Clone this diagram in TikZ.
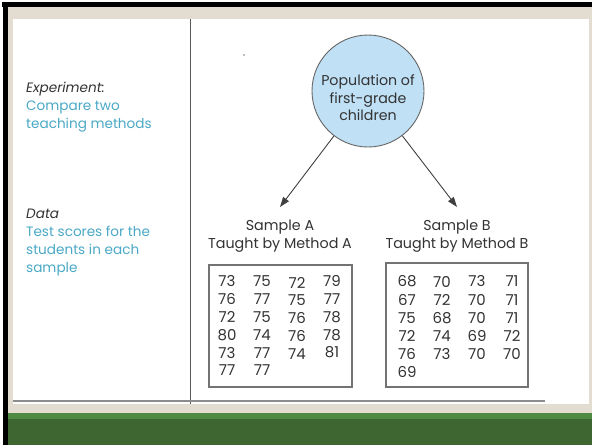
\documentclass[tikz,border=0pt]{standalone}
\usepackage{fontspec}
\setmainfont{Poppins}
\usetikzlibrary{arrows.meta}
\definecolor{beige}{HTML}{E3DDD1}
\definecolor{lgreen}{HTML}{4F8A43}
\definecolor{dgreen}{HTML}{3D6631}
\definecolor{teal}{HTML}{4AA9C6}
\definecolor{popfill}{HTML}{BFE0F5}
\definecolor{txt}{HTML}{333333}
\begin{document}
\begin{tikzpicture}[x=1pt,y=-1pt,
  lefthead/.style={anchor=base west,inner sep=0,font=\fontsize{13.6}{18}\selectfont\itshape,text=txt},
  lefttext/.style={anchor=base west,inner sep=0,font=\fontsize{13.6}{18}\selectfont,text=teal},
  samplelbl/.style={anchor=base,inner sep=0,font=\fontsize{14.3}{18}\selectfont,text=txt},
  num/.style={inner sep=0,font=\fontsize{15}{18}\selectfont,text=txt},
  databox/.style={draw=black!55,line width=1.2pt},
  arr/.style={draw=black!75,line width=0.9pt,-{Triangle[length=10pt,width=7pt]}}]
\useasboundingbox (0,0) rectangle (592,445);
% frame
\fill[white] (0,0) rectangle (592,445);
\fill[black] (2,2) rectangle (592,7);
\fill[black] (3,2) rectangle (8,445);
\fill[beige] (8,7) rectangle (592,445);
\fill[white] (13,19) rectangle (589,404);
\fill[lgreen] (8,413) rectangle (592,419);
\fill[dgreen] (8,419) rectangle (592,445);
\draw[black!65,line width=0.9pt] (190,19) -- (190,404);
\draw[black!45,line width=1.4pt] (13,401) -- (545,401);
\fill[black!50] (244,55) circle (0.8);
% left texts
\node[lefthead] (exph) at (26,92) {Experiment:};
\node[lefttext] (exp1) at (26,110) {Compare two};
\node[lefttext] (exp2) at (26,128) {teaching methods};
\node[lefthead] (datah) at (26,218) {Data};
\node[lefttext] (data1) at (26,236) {Test scores for the};
\node[lefttext] (data2) at (26,254) {students in each};
\node[lefttext] (data3) at (26,272) {sample};
% population
\node[circle,draw=black!60,line width=0.9pt,fill=popfill,minimum size=112pt,inner sep=0] (pop) at (368,91) {};
\node[align=center,inner sep=0,font=\fontsize{14.2}{17.5}\selectfont,text=txt] (poptext) at (368,98) {Population of\\first-grade\\children};
\coordinate (tipA) at (280,207);
\coordinate (tipB) at (457,207);
\draw[arr] (pop) -- (tipA);
\draw[arr] (pop) -- (tipB);
\node[samplelbl] (sa1) at (280,230) {Sample A};
\node[samplelbl] (sa2) at (280,248) {Taught by Method A};
\node[samplelbl] (sb1) at (457,230) {Sample B};
\node[samplelbl] (sb2) at (457,248) {Taught by Method B};
% boxes
\draw[databox] (209,265) rectangle (352,387);
\draw[databox] (386,263) rectangle (528,387);
\foreach \row [count=\r from 0] in {{73,75,72,79},{76,77,75,77},{72,75,76,78},{80,74,76,78},{73,77,74,81},{77,77}}{
  \foreach \v [count=\c from 0] in \row {
    \pgfmathsetmacro{\dy}{\c==2 ? 1.5 : 0}
    \node[num] (a-\r-\c) at (227+35*\c, 281+17.9*\r+\dy) {\v};
  }
}
\foreach \row [count=\r from 0] in {{68,70,73,71},{67,72,70,71},{75,68,70,71},{72,74,69,72},{76,73,70,70},{69}}{
  \foreach \v [count=\c from 0] in \row {
    \node[num] (b-\r-\c) at (407+35*\c, 281.5+18.1*\r) {\v};
  }
}
\end{tikzpicture}
\end{document}
